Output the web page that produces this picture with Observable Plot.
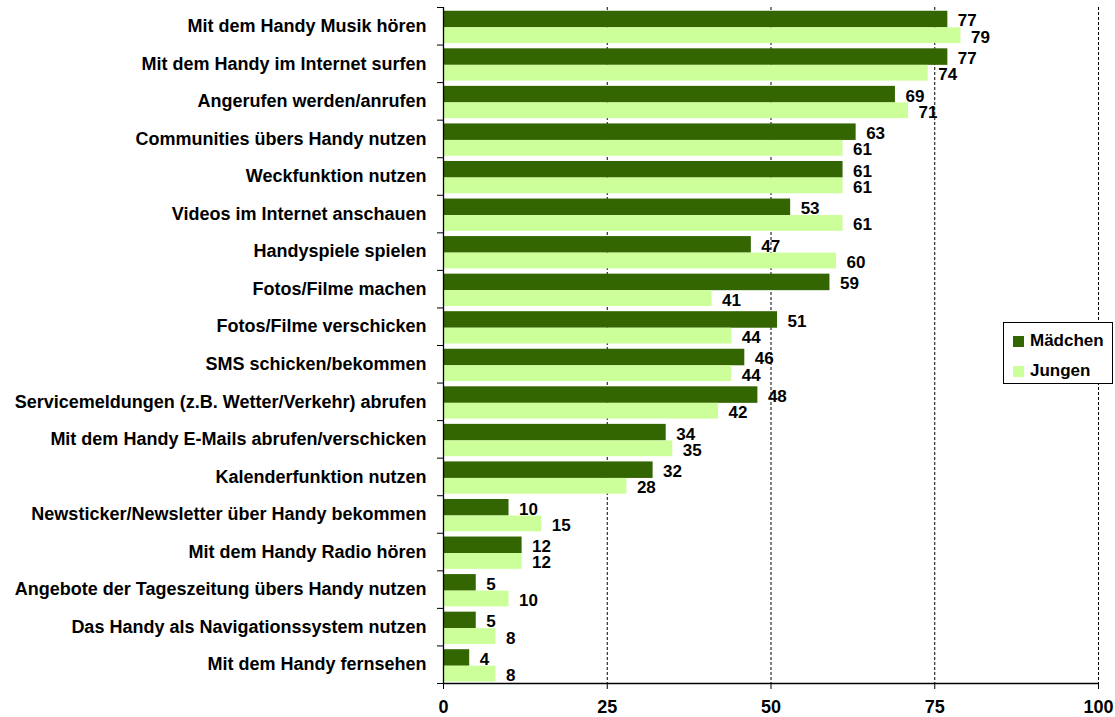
<!DOCTYPE html>
<html>
<head>
<meta charset="utf-8">
<script src="https://cdn.jsdelivr.net/npm/d3@7"></script>
<script src="https://cdn.jsdelivr.net/npm/@observablehq/plot@0.6"></script>
<style>
  body { margin: 0; background: #fff; }
  #wrap { position: relative; width: 1115px; height: 717px; font-family: "Liberation Sans", Arial, sans-serif; }
  #legend { position: absolute; left: 1003px; top: 322px; width: 108px; height: 60px; border: 1px solid #000; background: #fff; font-weight: bold; font-size: 17px; }
  .item { position: absolute; left: 9px; display: flex; align-items: center; }
  .sw { width: 11px; height: 11px; margin-right: 6px; }
</style>
</head>
<body>
<div id="wrap">
  <div id="chart"></div>
  <div id="legend">
    <div class="item" style="top:8px"><div class="sw" style="background:#336600"></div><span>Mädchen</span></div>
    <div class="item" style="top:38px"><div class="sw" style="background:#ccff99"></div><span>Jungen</span></div>
  </div>
</div>
<script>
const categories = [
  "Mit dem Handy Musik hören",
  "Mit dem Handy im Internet surfen",
  "Angerufen werden/anrufen",
  "Communities übers Handy nutzen",
  "Weckfunktion nutzen",
  "Videos im Internet anschauen",
  "Handyspiele spielen",
  "Fotos/Filme machen",
  "Fotos/Filme verschicken",
  "SMS schicken/bekommen",
  "Servicemeldungen (z.B. Wetter/Verkehr) abrufen",
  "Mit dem Handy E-Mails abrufen/verschicken",
  "Kalenderfunktion nutzen",
  "Newsticker/Newsletter über Handy bekommen",
  "Mit dem Handy Radio hören",
  "Angebote der Tageszeitung übers Handy nutzen",
  "Das Handy als Navigationssystem nutzen",
  "Mit dem Handy fernsehen"
];
const maedchen = [77, 77, 69, 63, 61, 53, 47, 59, 51, 46, 48, 34, 32, 10, 12, 5, 5, 4];
const jungen   = [79, 74, 71, 61, 61, 61, 60, 41, 44, 44, 42, 35, 28, 15, 12, 10, 8, 8];
const xTicks = [0, 25, 50, 75, 100];
const gridTicks = [25, 50, 75, 100];

const rows = categories.map((c, i) => ({c, i, m: maedchen[i], j: jungen[i]}));
const font = {fontSize: 17, fontWeight: "bold", fill: "#000"};

const chart = Plot.plot({
  width: 1115,
  height: 717,
  marginLeft: 443,
  marginRight: 17,
  marginTop: 7,
  marginBottom: 34,
  style: {fontFamily: "'Liberation Sans', Arial, sans-serif", background: "#fff", color: "#000", overflow: "visible"},
  x: {type: "linear", domain: [0, 100]},
  y: {type: "linear", domain: [0, categories.length], reverse: true},
  marks: [
    Plot.ruleX(gridTicks, {stroke: "#000", strokeDasharray: "3,2", strokeWidth: 1}),
    Plot.rect(rows, {x1: 0, x2: "m", y1: d => d.i + 0.1, y2: d => d.i + 0.54, fill: "#336600"}),
    Plot.rect(rows, {x1: 0, x2: "j", y1: d => d.i + 0.54, y2: d => d.i + 0.96, fill: "#ccff99"}),
    Plot.text(rows, {x: "m", y: d => d.i + 0.32, text: d => String(d.m), textAnchor: "start", dx: 10, dy: 1.5, ...font}),
    Plot.text(rows, {x: "j", y: d => d.i + 0.75, text: d => String(d.j), textAnchor: "start", dx: 10, dy: 1.5, ...font}),
    Plot.ruleX([0], {stroke: "#000", strokeWidth: 1.3}),
    Plot.ruleY([categories.length], {stroke: "#000", strokeWidth: 1.3}),
    Plot.axisY({ticks: d3.range(categories.length + 1), tickSize: 6, tickFormat: () => "", label: null, stroke: "#000"}),
    Plot.axisY({ticks: categories.map((d, i) => i + 0.5), tickSize: 0, tickPadding: 17,
      tickFormat: t => categories[Math.floor(t)], label: null, fontSize: 18, fontWeight: "bold", fill: "#000"}),
    Plot.axisX({ticks: xTicks, tickSize: 6, tickPadding: 11, label: null, fontSize: 18, fontWeight: "bold", stroke: "#000", fill: "#000"})
  ]
});
document.getElementById("chart").appendChild(chart);
</script>
</body>
</html>
